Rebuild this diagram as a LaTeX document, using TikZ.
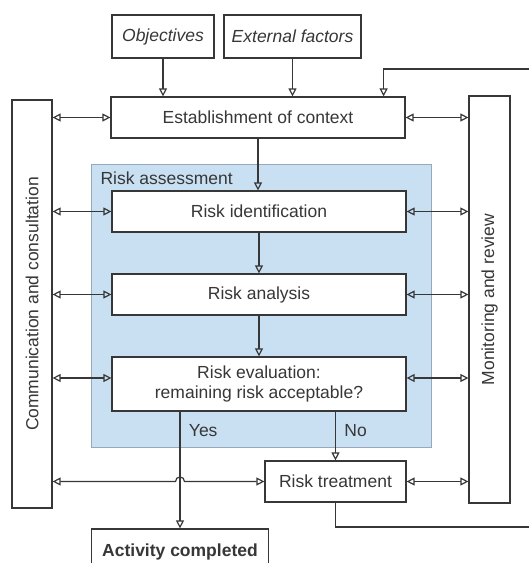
\documentclass[tikz,border=0pt]{standalone}
\usepackage{fontspec}
\setmainfont{Liberation Sans}
\usepackage{xcolor}
\usetikzlibrary{arrows.meta}
\definecolor{linegray}{RGB}{55,55,55}
\definecolor{assessblue}{RGB}{201,224,243}
\definecolor{assessedge}{RGB}{150,168,186}

\begin{document}
\begin{tikzpicture}[
	x=1pt, y=-1pt,
	every node/.style={font=\fontsize{17.5}{20}\selectfont, text=linegray},
	stepbox/.style={draw=linegray, line width=1.2pt, fill=white, inner sep=2pt, align=center},
	assess/.style={draw=assessedge, line width=1pt, fill=assessblue},
	link/.style={draw=linegray, line width=1.2pt, -{Triangle[open, length=8pt, width=8pt]}},
	both/.style={draw=linegray, line width=1.2pt, {Triangle[open, length=8pt, width=8pt]}-{Triangle[open, length=8pt, width=8pt]}}
]
\useasboundingbox (0,0) rectangle (529,563);
\clip (0,0) rectangle (529,563);

\node[assess, minimum width=340pt, minimum height=283pt] (assess) at (261,305.5) {};
\node[anchor=west] (assesslbl) at (97,178) {Risk assessment};

\node[stepbox, minimum width=102pt, minimum height=43pt] (obj) at (163,36.5) {\itshape Objectives};
\node[stepbox, minimum width=137pt, minimum height=43pt] (ext) at (292.5,36.5) {\itshape External factors};
\node[stepbox, minimum width=294pt, minimum height=41pt] (ctx) at (258,117.5) {Establishment of context};
\node[stepbox, minimum width=294pt, minimum height=41pt] (ident) at (259,211.5) {Risk identification};
\node[stepbox, minimum width=294pt, minimum height=41pt] (anal) at (259,294.5) {Risk analysis};
\node[stepbox, minimum width=294pt, minimum height=54pt] (eval) at (259,384) {Risk evaluation:\\remaining risk acceptable?};
\node[stepbox, minimum width=141pt, minimum height=41pt] (treat) at (335.5,481.5) {Risk treatment};
\node[stepbox, minimum width=177pt, minimum height=46pt, font=\fontsize{17.5}{20}\selectfont\bfseries] (done) at (180,552) {Activity completed};
\node[stepbox, minimum width=408pt, minimum height=40pt, rotate=90] (comm) at (32,304) {Communication and consultation};
\node[stepbox, minimum width=407pt, minimum height=41pt, rotate=90] (mon) at (489.5,299.5) {Monitoring and review};

\coordinate (fbb) at (545,527);
\coordinate (fbt) at (545,69);
\coordinate (hop) at (done.north |- treat.west);
\coordinate (evalw) at ([yshift=6pt]eval.west);
\coordinate (evale) at ([yshift=6pt]eval.east);

\draw[link] (obj.south) -- (obj.south |- ctx.north);
\draw[link] (ext.south) -- (ext.south |- ctx.north);
\draw[link] (ctx.south) -- (ctx.south |- ident.north);
\draw[link] (ident.south) -- (anal.north);
\draw[link] (anal.south) -- (eval.north);
\draw[link] (eval.south -| done.north) -- node[pos=0.16, anchor=west, xshift=5pt] (yes) {Yes} (done.north);
\draw[link] (eval.south -| treat.north) -- node[pos=0.38, anchor=west, xshift=5pt] (no) {No} (treat.north);

\draw[both] (comm.south |- ctx.west) -- (ctx.west);
\draw[both] (ctx.east) -- (mon.north |- ctx.east);
\draw[both] (comm.south |- ident.west) -- (ident.west);
\draw[both] (ident.east) -- (mon.north |- ident.east);
\draw[both] (comm.south |- anal.west) -- (anal.west);
\draw[both] (anal.east) -- (mon.north |- anal.east);
\draw[both] (comm.south |- evalw) -- (evalw);
\draw[both] (evale) -- (mon.north |- evale);
\draw[both] (comm.south |- treat.west) -- ([xshift=-4.5pt]hop)
	.. controls ([shift={(-4.5pt,6pt)}]hop) and ([shift={(4.5pt,6pt)}]hop) .. ([xshift=4.5pt]hop)
	-- (treat.west);
\draw[both] (treat.east) -- (mon.north |- treat.east);

\draw[link] (treat.south) |- (fbb) -- (fbt) -| ([xshift=-22pt]ctx.north east);
\end{tikzpicture}
\end{document}
